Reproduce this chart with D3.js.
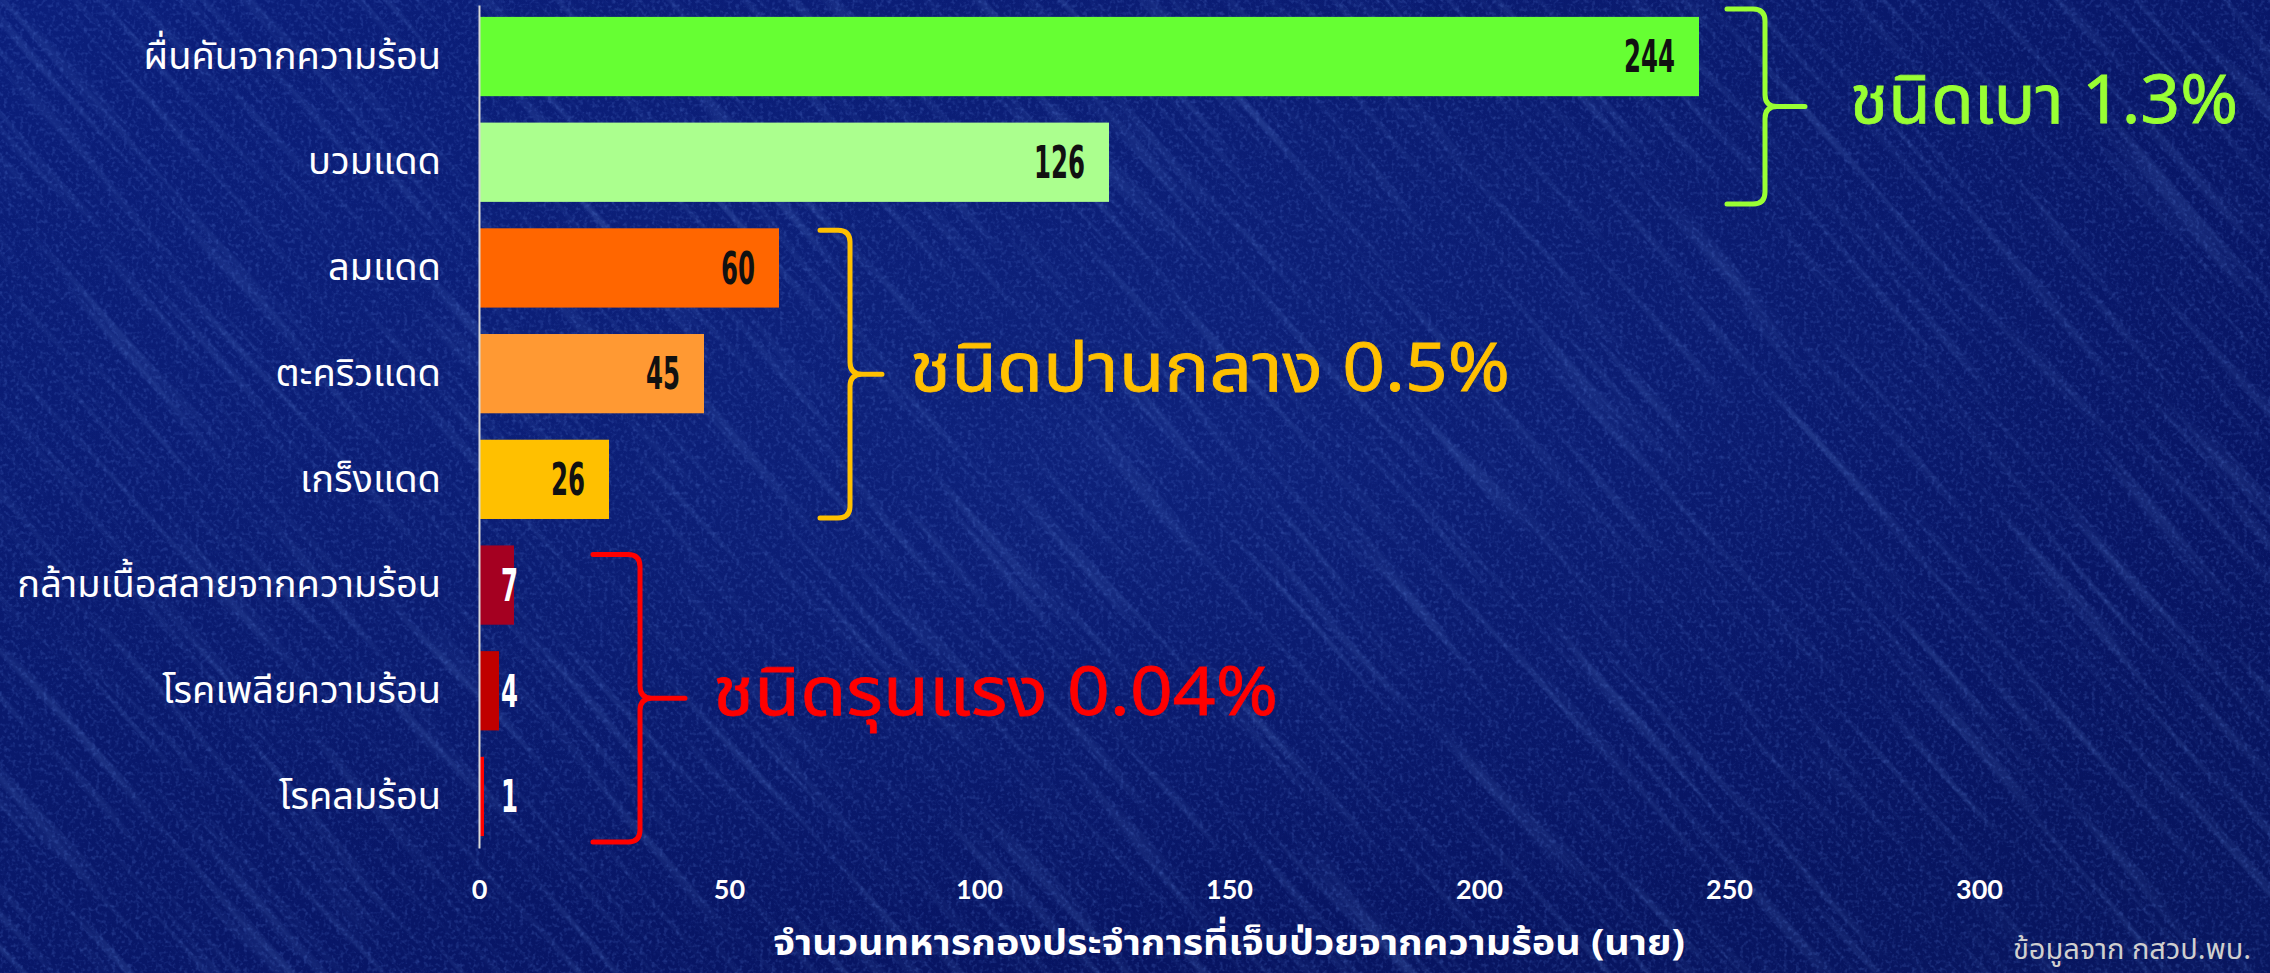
<!DOCTYPE html>
<html>
<head>
<meta charset="utf-8">
<script src="https://cdn.jsdelivr.net/npm/d3@7"></script>
<style>
  html, body { margin: 0; padding: 0; background: #0a1a68; overflow: hidden; }
  svg { display: block; }
</style>
</head>
<body>
<svg id="chart" width="2270" height="973"></svg>
<script>
// Heat-illness cases among conscripts, grouped by severity
const categories = [
  "ผื่นคันจากความร้อน",
  "บวมแดด",
  "ลมแดด",
  "ตะคริวแดด",
  "เกร็งแดด",
  "กล้ามเนื้อสลายจากความร้อน",
  "โรคเพลียความร้อน",
  "โรคลมร้อน"
];
const values = [244, 126, 60, 45, 26, 7, 4, 1];
const barColors = ["#66ff33", "#abff8e", "#ff6600", "#ff9933", "#ffc000", "#a50021", "#c00000", "#ff0000"];
const xTicks = [0, 50, 100, 150, 200, 250, 300];

// severity groups (index ranges into categories) and their share labels
const groupLabels = ["ชนิดเบา 1.3%", "ชนิดปานกลาง 0.5%", "ชนิดรุนแรง 0.04%"];
const groupFirst = [0, 2, 5];
const groupLast = [1, 4, 7];
const groupColors = ["#99ff33", "#ffc000", "#ff0000"];

const axisTitle = "จำนวนทหารกองประจำการที่เจ็บป่วยจากความร้อน (นาย)";
const sourceNote = "ข้อมูลจาก กสวป.พบ.";

// ---- layout ----
const W = 2270, H = 973;
const thai = "'Noto Sans Thai', 'Noto Sans Thai Looped', 'Noto Sans', sans-serif";
// brace geometry: left end x, spine x, tip x, offsets from the bracketed bars, label x and width
const braceLayout = [
  { x0: 1727, xv: 1765, xt: 1805, dTop: -8, dBot: 2, tx: 1850, tw: 388 },
  { x0: 820,  xv: 850,  xt: 882,  dTop: 2,  dBot: -1, tx: 910, tw: 600 },
  { x0: 593,  xv: 640,  xt: 685,  dTop: 9,  dBot: 6, tx: 713, tw: 565 }
];

const svg = d3.select("#chart");

// ---- background ----
const defs = svg.append("defs");
const bg = defs.append("linearGradient").attr("id", "bgGrad")
  .attr("x1", 0).attr("y1", 0).attr("x2", 1).attr("y2", 1);
bg.append("stop").attr("offset", "0%").attr("stop-color", "#0b1f7c");
bg.append("stop").attr("offset", "40%").attr("stop-color", "#09196c");
bg.append("stop").attr("offset", "75%").attr("stop-color", "#071462");
bg.append("stop").attr("offset", "100%").attr("stop-color", "#08165f");

const glow = defs.append("radialGradient").attr("id", "glow")
  .attr("cx", "50%").attr("cy", "45%").attr("r", "55%");
glow.append("stop").attr("offset", "0%").attr("stop-color", "#1a3aa8").attr("stop-opacity", 0.28);
glow.append("stop").attr("offset", "100%").attr("stop-color", "#1a3aa8").attr("stop-opacity", 0);

const streak = defs.append("filter").attr("id", "streaks")
  .attr("x", 0).attr("y", 0).attr("width", "100%").attr("height", "100%");
streak.append("feTurbulence").attr("type", "fractalNoise")
  .attr("baseFrequency", "0.004 0.09").attr("numOctaves", 3).attr("seed", 7).attr("result", "n");
streak.append("feColorMatrix").attr("in", "n").attr("type", "matrix")
  .attr("values", "0 0 0 0 0.2  0 0 0 0 0.4  0 0 0 0 0.9  3 0 0 0 -1.6");

const grain = defs.append("filter").attr("id", "grain")
  .attr("x", 0).attr("y", 0).attr("width", "100%").attr("height", "100%");
grain.append("feTurbulence").attr("type", "fractalNoise")
  .attr("baseFrequency", "0.25").attr("numOctaves", 2).attr("seed", 3).attr("result", "g");
grain.append("feColorMatrix").attr("in", "g").attr("type", "matrix")
  .attr("values", "0 0 0 0 0.15  0 0 0 0 0.3  0 0 0 0 0.85  2 0 0 0 -0.95");

svg.append("rect").attr("width", W).attr("height", H).attr("fill", "url(#bgGrad)");
svg.append("rect").attr("width", W).attr("height", H).attr("fill", "url(#glow)");
svg.append("g").attr("transform", `rotate(48 ${W / 2} ${H / 2})`)
  .append("rect").attr("x", -800).attr("y", -1400).attr("width", W + 1600).attr("height", H + 2800)
  .attr("filter", "url(#streaks)").attr("opacity", 0.18);
svg.append("rect").attr("width", W).attr("height", H)
  .attr("filter", "url(#grain)").attr("opacity", 0.3);

// ---- scales ----
const x = d3.scaleLinear().domain([0, 300]).range([479, 1979]);
const y = d3.scaleBand().domain(categories).range([5, 848])
  .paddingInner(0.25).paddingOuter(0.1125);

// ---- bars ----
const rows = categories.map((c, i) => ({ c, v: values[i], color: barColors[i] }));

svg.append("g").selectAll("rect").data(rows).join("rect")
  .attr("x", x(0))
  .attr("y", d => y(d.c))
  .attr("width", d => x(d.v) - x(0))
  .attr("height", y.bandwidth())
  .attr("fill", d => d.color);

// ---- value labels ----
svg.append("g").selectAll("text").data(rows).join("text")
  .attr("x", d => d.v >= 10 ? x(d.v) - 24 : x(0) + 22)
  .attr("y", d => y(d.c) + y.bandwidth() / 2)
  .attr("dy", "0.36em")
  .attr("text-anchor", d => d.v >= 10 ? "end" : "start")
  .attr("textLength", d => String(d.v).length * 17)
  .attr("lengthAdjust", "spacingAndGlyphs")
  .attr("font-family", "'DejaVu Sans Condensed', 'DejaVu Sans', sans-serif")
  .attr("font-stretch", "condensed")
  .attr("font-weight", "bold")
  .attr("font-size", 44)
  .attr("fill", d => d.v >= 10 ? "#111111" : "#ffffff")
  .text(d => d.v);

// ---- y axis (category labels + spine) ----
const yAxis = svg.append("g").attr("transform", `translate(${x(0)},0)`)
  .call(d3.axisLeft(y).tickSize(0).tickSizeOuter(0).tickPadding(38));
yAxis.select(".domain").attr("stroke", "#d8d8d8").attr("stroke-width", 2);
yAxis.selectAll("text")
  .attr("font-family", thai)
  .attr("font-size", 38)
  .attr("fill", "#ffffff");

// ---- x axis (tick labels only) ----
const xAxis = svg.append("g").attr("transform", "translate(0,880)")
  .call(d3.axisBottom(x).tickValues(xTicks).tickSize(0).tickPadding(0));
xAxis.select(".domain").remove();
xAxis.selectAll("text")
  .attr("y", 10)
  .attr("dy", "0.35em")
  .attr("font-family", "Lato, 'Open Sans', sans-serif")
  .attr("font-weight", "bold")
  .attr("font-size", 27)
  .attr("fill", "#ffffff");

svg.append("text")
  .attr("x", (x.range()[0] + x.range()[1]) / 2)
  .attr("y", 942)
  .attr("dy", "0.35em")
  .attr("text-anchor", "middle")
  .attr("font-family", thai)
  .attr("font-weight", "bold")
  .attr("font-size", 36)
  .attr("textLength", 912)
  .attr("lengthAdjust", "spacingAndGlyphs")
  .attr("fill", "#ffffff")
  .text(axisTitle);

// ---- severity braces ----
groupLabels.forEach((label, i) => {
  const L = braceLayout[i];
  const top = y(categories[groupFirst[i]]) + L.dTop;
  const bot = y(categories[groupLast[i]]) + y.bandwidth() + L.dBot;
  const mid = (top + bot) / 2;
  const r = 12;
  const p = d3.path();
  p.moveTo(L.x0, top);
  p.lineTo(L.xv - r, top);
  p.quadraticCurveTo(L.xv, top, L.xv, top + r);
  p.lineTo(L.xv, mid - r);
  p.quadraticCurveTo(L.xv, mid, L.xv + r, mid);
  p.lineTo(L.xt, mid);
  p.moveTo(L.xv + r, mid);
  p.quadraticCurveTo(L.xv, mid, L.xv, mid + r);
  p.lineTo(L.xv, bot - r);
  p.quadraticCurveTo(L.xv, bot, L.xv - r, bot);
  p.lineTo(L.x0, bot);
  svg.append("path").attr("d", p.toString())
    .attr("fill", "none").attr("stroke", groupColors[i])
    .attr("stroke-width", 5).attr("stroke-linecap", "round").attr("stroke-linejoin", "round");

  svg.append("text")
    .attr("x", L.tx)
    .attr("y", mid + 17)
    .attr("font-family", thai)
    .attr("font-size", 68)
    .attr("textLength", L.tw)
    .attr("lengthAdjust", "spacingAndGlyphs")
    .attr("fill", groupColors[i])
    .attr("stroke", groupColors[i])
    .attr("stroke-width", 0.8)
    .text(label);
});

// ---- source note ----
svg.append("text")
  .attr("x", 2251)
  .attr("y", 959)
  .attr("text-anchor", "end")
  .attr("font-family", thai)
  .attr("font-size", 29)
  .attr("fill", "#cfcfcf")
  .text(sourceNote);
</script>
</body>
</html>
